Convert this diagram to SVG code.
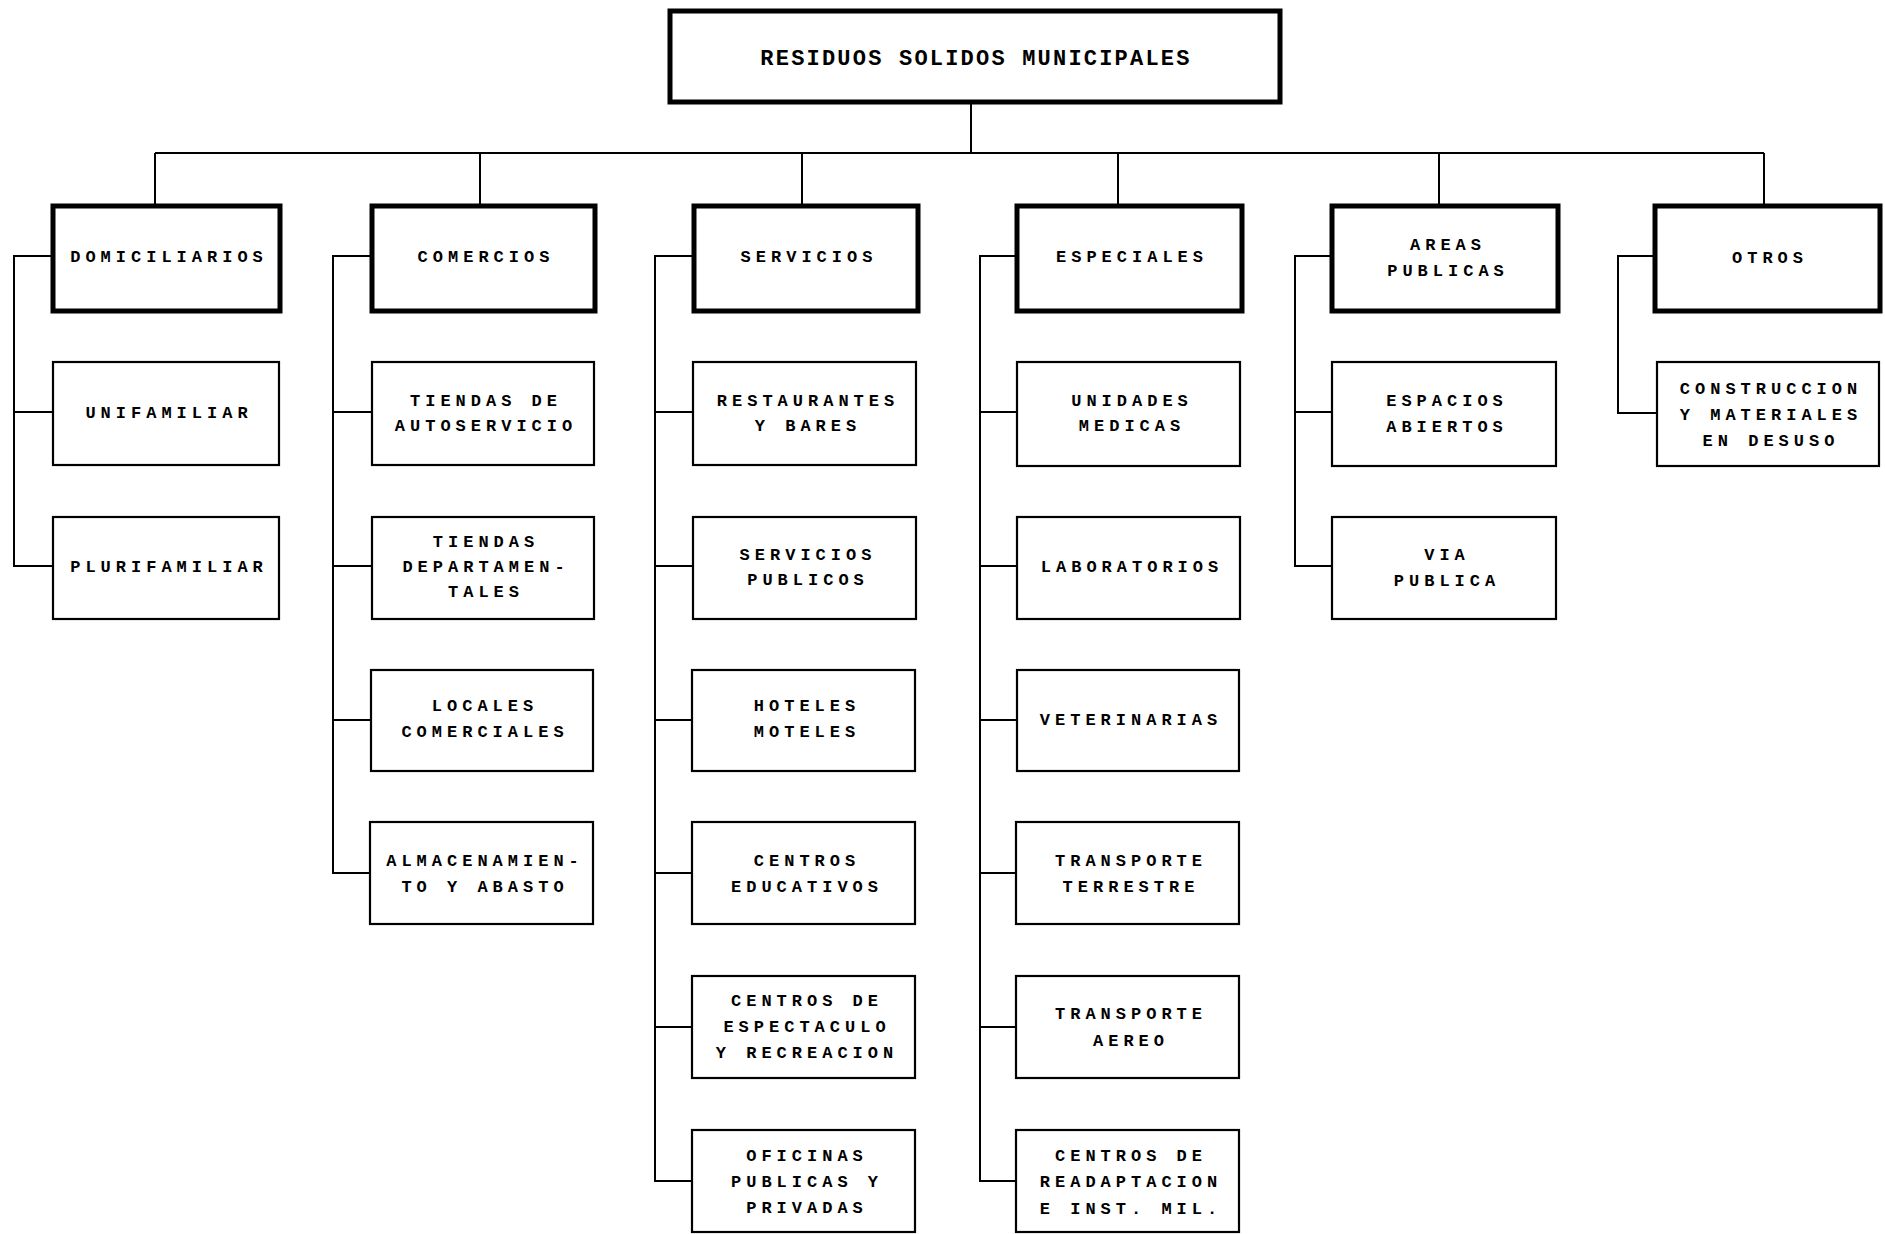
<svg xmlns="http://www.w3.org/2000/svg" width="1885" height="1234" viewBox="0 0 1885 1234">
<style>
.title{fill:#fff;stroke:#000;stroke-width:5}
.hdr{fill:#fff;stroke:#000;stroke-width:5}
.box{fill:#fff;stroke:#000;stroke-width:2.2}
.conn{fill:none;stroke:#000;stroke-width:2}
text{font-family:"Liberation Mono","DejaVu Sans Mono",monospace;font-weight:bold;fill:#000;text-anchor:middle}
.t{font-size:22px;letter-spacing:2.2px}
.l{font-size:17px;letter-spacing:5px}
</style>
<rect width="1885" height="1234" fill="#fff"/>
<g id="connectors">
<path class="conn" d="M971 102V153M155 153H1764M155 153V206M480 153V206M802 153V206M1118 153V206M1439 153V206M1764 153V206"/>
<path class="conn" d="M53 256H14V566H53M14 412H53"/>
<path class="conn" d="M372 256H333V873H372M333 412H372M333 566H372M333 720H372"/>
<path class="conn" d="M694 256H655V1181H693M655 412H693M655 566H693M655 720H693M655 873H693M655 1027H693"/>
<path class="conn" d="M1017 256H980V1181H1017M980 412H1017M980 566H1017M980 720H1017M980 873H1017M980 1027H1017"/>
<path class="conn" d="M1332 256H1295V566H1332M1295 412H1332"/>
<path class="conn" d="M1655 256H1618V413H1657"/>
</g>
<g id="root"><rect class="title" x="670" y="11" width="610" height="91"/><text class="t" x="976" y="65">RESIDUOS SOLIDOS MUNICIPALES</text></g>
<g id="domiciliarios"><rect class="hdr" x="53" y="206" width="227" height="105"/><text class="l" x="169" y="262">DOMICILIARIOS</text></g>
<g id="comercios"><rect class="hdr" x="372" y="206" width="223" height="105"/><text class="l" x="486" y="262">COMERCIOS</text></g>
<g id="servicios"><rect class="hdr" x="694" y="206" width="224" height="105"/><text class="l" x="809" y="262">SERVICIOS</text></g>
<g id="especiales"><rect class="hdr" x="1017" y="206" width="225" height="105"/><text class="l" x="1132" y="262">ESPECIALES</text></g>
<g id="areas-publicas"><rect class="hdr" x="1332" y="206" width="226" height="105"/><text class="l" x="1448" y="250">AREAS</text><text class="l" x="1448" y="276">PUBLICAS</text></g>
<g id="otros"><rect class="hdr" x="1655" y="206" width="225" height="105"/><text class="l" x="1770" y="263">OTROS</text></g>

<g id="unifamiliar"><rect class="box" x="53" y="362" width="226" height="103"/><text class="l" x="169" y="418">UNIFAMILIAR</text></g>
<g id="plurifamiliar"><rect class="box" x="53" y="517" width="226" height="102"/><text class="l" x="169" y="572">PLURIFAMILIAR</text></g>

<g id="tiendas-autoservicio"><rect class="box" x="372" y="362" width="222" height="103"/><text class="l" x="486" y="406">TIENDAS DE</text><text class="l" x="486" y="431">AUTOSERVICIO</text></g>
<g id="tiendas-departamentales"><rect class="box" x="372" y="517" width="222" height="102"/><text class="l" x="486" y="547">TIENDAS</text><text class="l" x="486" y="572">DEPARTAMEN-</text><text class="l" x="486" y="597">TALES</text></g>
<g id="locales-comerciales"><rect class="box" x="371" y="670" width="222" height="101"/><text class="l" x="485" y="711">LOCALES</text><text class="l" x="485" y="737">COMERCIALES</text></g>
<g id="almacenamiento"><rect class="box" x="370" y="822" width="223" height="102"/><text class="l" x="485" y="866">ALMACENAMIEN-</text><text class="l" x="485" y="892">TO Y ABASTO</text></g>

<g id="restaurantes"><rect class="box" x="693" y="362" width="223" height="103"/><text class="l" x="808" y="406">RESTAURANTES</text><text class="l" x="808" y="431">Y BARES</text></g>
<g id="servicios-publicos"><rect class="box" x="693" y="517" width="223" height="102"/><text class="l" x="808" y="560">SERVICIOS</text><text class="l" x="808" y="585">PUBLICOS</text></g>
<g id="hoteles"><rect class="box" x="692" y="670" width="223" height="101"/><text class="l" x="807" y="711">HOTELES</text><text class="l" x="807" y="737">MOTELES</text></g>
<g id="centros-educativos"><rect class="box" x="692" y="822" width="223" height="102"/><text class="l" x="807" y="866">CENTROS</text><text class="l" x="807" y="892">EDUCATIVOS</text></g>
<g id="centros-espectaculo"><rect class="box" x="692" y="976" width="223" height="102"/><text class="l" x="807" y="1006">CENTROS DE</text><text class="l" x="807" y="1032">ESPECTACULO</text><text class="l" x="807" y="1058">Y RECREACION</text></g>
<g id="oficinas"><rect class="box" x="692" y="1130" width="223" height="102"/><text class="l" x="807" y="1161">OFICINAS</text><text class="l" x="807" y="1187">PUBLICAS Y</text><text class="l" x="807" y="1213">PRIVADAS</text></g>

<g id="unidades-medicas"><rect class="box" x="1017" y="362" width="223" height="104"/><text class="l" x="1132" y="406">UNIDADES</text><text class="l" x="1132" y="431">MEDICAS</text></g>
<g id="laboratorios"><rect class="box" x="1017" y="517" width="223" height="102"/><text class="l" x="1132" y="572">LABORATORIOS</text></g>
<g id="veterinarias"><rect class="box" x="1017" y="670" width="222" height="101"/><text class="l" x="1131" y="725">VETERINARIAS</text></g>
<g id="transporte-terrestre"><rect class="box" x="1016" y="822" width="223" height="102"/><text class="l" x="1131" y="866">TRANSPORTE</text><text class="l" x="1131" y="892">TERRESTRE</text></g>
<g id="transporte-aereo"><rect class="box" x="1016" y="976" width="223" height="102"/><text class="l" x="1131" y="1019">TRANSPORTE</text><text class="l" x="1131" y="1046">AEREO</text></g>
<g id="centros-readaptacion"><rect class="box" x="1016" y="1130" width="223" height="102"/><text class="l" x="1131" y="1161">CENTROS DE</text><text class="l" x="1131" y="1187">READAPTACION</text><text class="l" x="1131" y="1214">E INST. MIL.</text></g>

<g id="espacios-abiertos"><rect class="box" x="1332" y="362" width="224" height="104"/><text class="l" x="1447" y="406">ESPACIOS</text><text class="l" x="1447" y="432">ABIERTOS</text></g>
<g id="via-publica"><rect class="box" x="1332" y="517" width="224" height="102"/><text class="l" x="1447" y="560">VIA</text><text class="l" x="1447" y="586">PUBLICA</text></g>

<g id="construccion"><rect class="box" x="1657" y="362" width="222" height="104"/><text class="l" x="1771" y="394">CONSTRUCCION</text><text class="l" x="1771" y="420">Y MATERIALES</text><text class="l" x="1771" y="446">EN DESUSO</text></g>
</svg>
